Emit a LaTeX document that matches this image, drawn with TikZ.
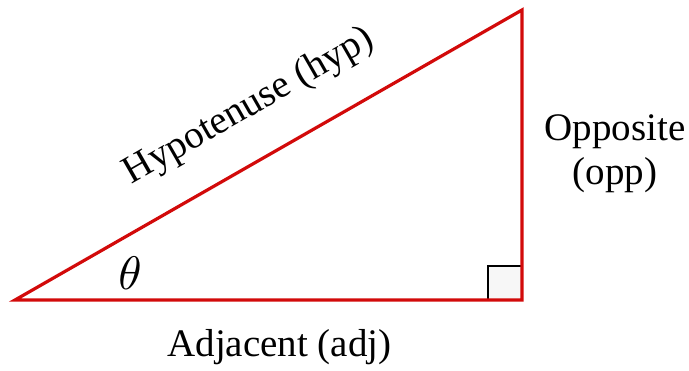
\documentclass[tikz,border=0pt]{standalone}
\usepackage{fontspec}
\setmainfont{Liberation Serif}
\usepackage{tikz}
\usetikzlibrary{positioning, calc}
\definecolor{myred}{RGB}{210,10,10}
\definecolor{boxgray}{RGB}{247,247,247}
\tikzset{
  side/.style={draw=myred, line width=3.2pt},
  rightmark/.style={draw=black, line width=2.8pt, fill=boxgray},
  lbl/.style={font=\fontsize{39}{44}\selectfont, align=center, inner sep=0pt}
}
\begin{document}
\begin{tikzpicture}[x=1pt, y=1pt]
  \useasboundingbox (0,0) rectangle (689,370);

  % Corners
  \coordinate (A) at (15,70);
  \coordinate (B) at (522,70);
  \coordinate (C) at (522,360);
  \coordinate (sq) at (488,104);

  % Right angle mark
  \draw[rightmark] (B) rectangle (sq);

  % Triangle
  \draw[side] (A) -- (B) -- (C) -- cycle;

  % Labels
  \node[lbl, rotate=29.8] (hyp) at (249,263) {Hypotenuse (hyp)};
  \node[lbl, anchor=base] (adj) at (279.5,13) {Adjacent (adj)};
  \node[lbl] (opp) at (615,216) {Opposite\\(opp)};
  \node[inner sep=0pt, scale=4.7] (theta) at (130,97) {$\theta$};
\end{tikzpicture}
\end{document}
